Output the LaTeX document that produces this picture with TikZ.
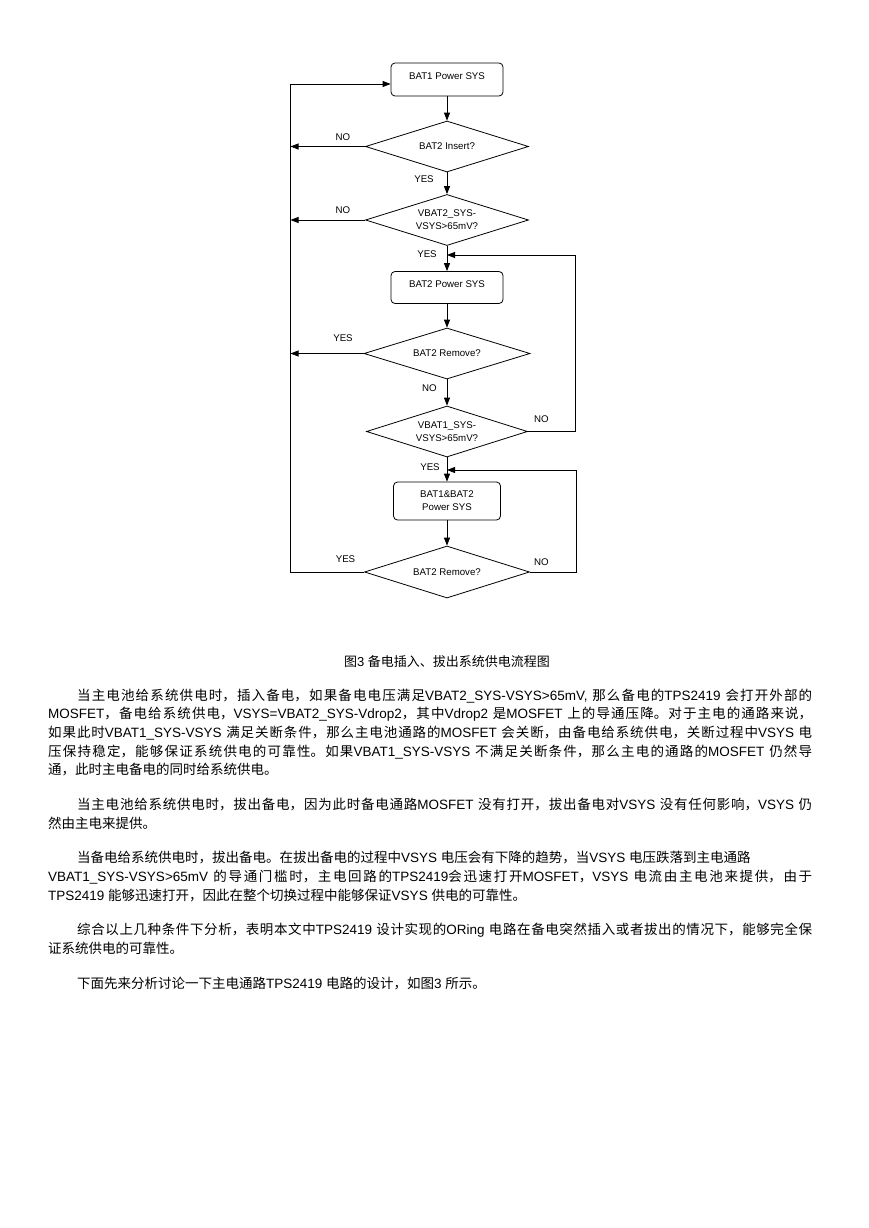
\documentclass[tikz,border=0pt]{standalone}
\usepackage{fontspec}
\setmainfont{Noto Sans CJK SC}
\newfontfamily\lat{Liberation Sans}
\usetikzlibrary{arrows.meta,shapes.geometric,calc}
\XeTeXlinebreaklocale "zh"
\XeTeXlinebreakskip=0pt plus 2pt
\setlength{\parindent}{0pt}
\tolerance=9999
\hbadness=10000

\begin{document}
\begin{tikzpicture}[x=1pt,y=-1pt,
  proc/.style={draw,rounded corners=4pt,line width=0.8pt,minimum width=112pt,minimum height=33pt,inner sep=0pt,align=center,font=\lat\fontsize{9.7pt}{12.7pt}\selectfont},
  cond/.style={draw,diamond,aspect=3.2,line width=0.8pt,minimum width=163pt,minimum height=51pt,inner sep=0pt,align=center,font=\lat\fontsize{9.7pt}{12.7pt}\selectfont},
  lbl/.style={inner sep=0pt,font=\lat\fontsize{9.7pt}{12pt}\selectfont},
  flow/.style={line width=0.8pt,-{Triangle[length=8pt,width=6pt]}},
  para/.style={anchor=base west,inner sep=0pt,text width=764pt,align=justify,font=\fontsize{13.5pt}{18.7pt}\selectfont}]
  \fill[white] (0,0) rectangle (868,1228);
  \useasboundingbox (0,0) rectangle (868,1228);

  % flow chart
  \node[proc,text depth=7pt] (b1) at (447,79.5) {BAT1 Power SYS};
  \node[cond] (d1) at (447,146.5) {BAT2 Insert?};
  \node[cond] (d2) at (447,220) {VBAT2\_SYS-\\VSYS>65mV?};
  \node[proc,minimum height=32pt,text depth=7pt] (b2) at (447,287.5) {BAT2 Power SYS};
  \node[cond,minimum width=166pt] (d3) at (447,353.5) {BAT2 Remove?};
  \node[cond,minimum width=161pt] (d4) at (447,431.5) {VBAT1\_SYS-\\VSYS>65mV?};
  \node[proc,minimum width=107pt,minimum height=38pt] (b3) at (447,501) {BAT1\&BAT2\\Power SYS};
  \node[cond,minimum width=165pt,minimum height=52pt] (d5) at (447,572) {BAT2 Remove?};
  \coordinate (lft) at (290.5,84);
  \coordinate (rt1) at (575.5,255);
  \coordinate (rt2) at (576,470);

  \draw[flow] (b1) -- (d1);
  \draw[flow] (d1) -- (d2);
  \draw[flow] (d2) -- (b2);
  \draw[flow] (b2) -- (d3);
  \draw[flow] (d3) -- (d4);
  \draw[flow] (d4) -- (b3);
  \draw[flow] (b3) -- (d5);
  \draw[flow] (d1.west) -- (d1.west -| lft);
  \draw[flow] (d2.west) -- (d2.west -| lft);
  \draw[flow] (d3.west) -- (d3.west -| lft);
  \draw[flow] (d5.west) -- (d5.west -| lft) -- (lft) -- (lft -| b1.west);
  \draw[flow] (d4.east) -- (d4.east -| rt1) -- (rt1) -- (rt1 -| d2.south);
  \draw[flow] (d5.east) -- (d5.east -| rt2) -- (rt2) -- (rt2 -| b3.north);

  \node[lbl] (no1) at (343,137) {NO};
  \node[lbl] (yes1) at (424,179.5) {YES};
  \node[lbl] (no2) at (343,210) {NO};
  \node[lbl] (yes2) at (427,254.5) {YES};
  \node[lbl] (yes3) at (343,338.5) {YES};
  \node[lbl] (no3) at (429.5,388) {NO};
  \node[lbl] (no4) at (541.5,419.5) {NO};
  \node[lbl] (yes4) at (430,467.5) {YES};
  \node[lbl] (yes5) at (345.5,559.5) {YES};
  \node[lbl] (no5) at (541.5,562.5) {NO};

  % caption and text
  \node[anchor=base,inner sep=0pt,font=\fontsize{13pt}{16pt}\selectfont] (cap) at (447,666) {图{\lat 3 }备电插入、拔出系统供电流程图};

  \node[para] (p1) at (48,700) {\hspace*{29pt}当主电池给系统供电时，插入备电，如果备电电压满足{\lat VBAT2\_SYS-VSYS>65mV, }那么备电的{\lat TPS2419 }会打开外部的\linebreak
{\lat MOSFET}，备电给系统供电，{\lat VSYS=VBAT2\_SYS-Vdrop2}，其中{\lat Vdrop2 }是{\lat MOSFET }上的导通压降。对于主电的通路来说，\linebreak
如果此时{\lat VBAT1\_SYS-VSYS }满足关断条件，那么主电池通路的{\lat MOSFET }会关断，由备电给系统供电，关断过程中{\lat VSYS }电\linebreak
压保持稳定，能够保证系统供电的可靠性。如果{\lat VBAT1\_SYS-VSYS }不满足关断条件，那么主电的通路的{\lat MOSFET }仍然导\linebreak
通，此时主电备电的同时给系统供电。};

  \node[para] (p2) at (48,809.5) {\hspace*{29pt}当主电池给系统供电时，拔出备电，因为此时备电通路{\lat MOSFET }没有打开，拔出备电对{\lat VSYS }没有任何影响，{\lat VSYS }仍\linebreak
然由主电来提供。};

  \node[para] (p3) at (48,862.7) {\hspace*{29pt}当备电给系统供电时，拔出备电。在拔出备电的过程中{\lat VSYS }电压会有下降的趋势，当{\lat VSYS }电压跌落到主电通路\newline
{\lat VBAT1\_SYS-VSYS>65mV }的导通门槛时，主电回路的{\lat TPS2419}会迅速打开{\lat MOSFET}，{\lat VSYS }电流由主电池来提供，由于\linebreak
{\lat TPS2419 }能够迅速打开，因此在整个切换过程中能够保证{\lat VSYS }供电的可靠性。};

  \node[para] (p4) at (48,934.7) {\hspace*{29pt}综合以上几种条件下分析，表明本文中{\lat TPS2419 }设计实现的{\lat ORing }电路在备电突然插入或者拔出的情况下，能够完全保\linebreak
证系统供电的可靠性。};

  \node[para] (p5) at (48,988) {\hspace*{29pt}下面先来分析讨论一下主电通路{\lat TPS2419 }电路的设计，如图{\lat 3 }所示。};
\end{tikzpicture}
\end{document}
